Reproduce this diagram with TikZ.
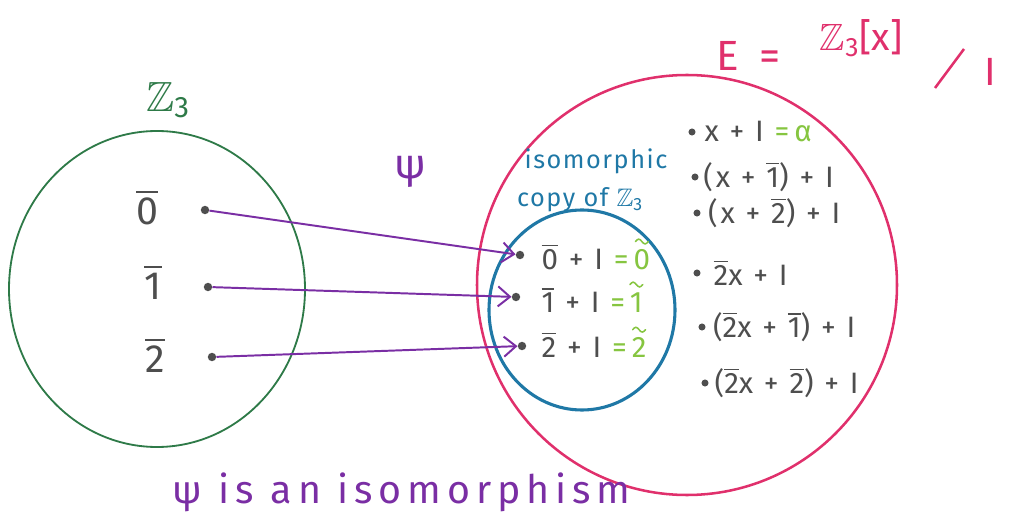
\documentclass[tikz,border=0pt]{standalone}
\usepackage{fix-cm}
\usepackage{amsmath,amssymb}
\usepackage{fontspec}
\setmainfont{Fira Sans}
\usepackage{tikz}
\usetikzlibrary{arrows.meta,positioning,calc}
\definecolor{zgreen}{HTML}{2E7A48}
\definecolor{epink}{HTML}{E0306C}
\definecolor{cblue}{HTML}{1F78A6}
\definecolor{psiviolet}{HTML}{7A2EA4}
\definecolor{pencil}{HTML}{4E4E4E}
\definecolor{limegreen}{HTML}{86C540}
\newcommand{\ovl}[1]{\ensuremath{\overline{\mbox{#1}}}}
\newcommand{\tildemark}{\tikz[x=1cm,y=1cm]\draw[limegreen, line width=1.1pt, line cap=round] (0,0) sin (0.08,0.06) cos (0.16,0) sin (0.24,-0.06) cos (0.32,0);}
\newcommand{\tildigit}[1]{\ooalign{#1\cr\hidewidth\raisebox{0.85em}{\tildemark}\hidewidth\cr}}
\newcommand{\eqpart}[1]{\textcolor{limegreen}{=\,\tildigit{#1}}}
\newcommand{\Zthree}{$\mathbb{Z}_{\text{3}}$}

\begin{document}
\begin{tikzpicture}[x=0.025cm,y=-0.025cm,
  hand/.style={font=\fontsize{21}{24}\selectfont\addfontfeature{LetterSpace=10}, text=pencil, inner sep=1pt},
  bighand/.style={font=\fontsize{28}{30}\selectfont\addfontfeature{LetterSpace=10}, text=pencil},
  bluenote/.style={font=\fontsize{18}{20}\selectfont\addfontfeature{LetterSpace=6}, text=cblue, inner sep=0pt},
  dot/.style={circle, fill=pencil, inner sep=0pt, minimum size=6pt},
  psimap/.style={psiviolet, line width=1.4pt, -{Straight Barb[length=3mm,width=5mm]}}]
  \useasboundingbox (0,0) rectangle (1009,518);

  \draw[zgreen, line width=1.3pt] (157,289) ellipse [x radius=148, y radius=158];
  \draw[epink, line width=1.8pt] (687,285) circle [radius=210];
  \draw[cblue, line width=2.2pt] (582,310) ellipse [x radius=93, y radius=100];

  \node[font=\fontsize{30}{32}\selectfont, text=zgreen] (zlabel) at (168,100) {\Zthree};
  \node[font=\fontsize{30}{32}\selectfont\addfontfeature{LetterSpace=20}, text=epink, anchor=west] (elabel) at (712,56) {E =};
  \node[font=\fontsize{27}{30}\selectfont, text=epink, anchor=west] (quot) at (815,38) {\Zthree[x]};
  \draw[epink, line width=1.8pt] (935,88) -- (964,49);
  \node[font=\fontsize{28}{30}\selectfont, text=epink] (ideal) at (990,72) {I};

  \node[font=\fontsize{30}{32}\selectfont, text=psiviolet] (psi) at (410,172) {ψ};
  \node[bluenote] (iso) at (596,161) {isomorphic};
  \node[bluenote] (copy) at (580,200) {copy of \Zthree};

  \node[bighand] (l0) at (147,207) {\ovl{0}};
  \node[bighand] (l1) at (153,282) {\ovl{1}};
  \node[bighand] (l2) at (155,355) {\ovl{2}};
  \node[dot] (d0) at (205,210) {};
  \node[dot] (d1) at (208,287) {};
  \node[dot] (d2) at (212,357) {};

  \node[dot] (e0) at (520,255) {};
  \node[dot] (e1) at (516,297) {};
  \node[dot] (e2) at (522,346) {};
  \node[hand, anchor=west] (c0) at (540,257) {\ovl{0} + I \eqpart{0}};
  \node[hand, anchor=west] (c1) at (540,300) {\ovl{1} + I \eqpart{1}};
  \node[hand, anchor=west] (c2) at (540,345) {\ovl{2} + I \eqpart{2}};

  \draw[psimap] (d0) -- (e0);
  \draw[psimap] (d1) -- (e1);
  \draw[psimap] (d2) -- (e2);

  \node[dot, minimum size=5pt] (p1) at (692,132) {};
  \node[dot, minimum size=5pt] (p2) at (695,177) {};
  \node[dot, minimum size=5pt] (p3) at (697,213) {};
  \node[dot, minimum size=5pt] (p4) at (697,273) {};
  \node[dot, minimum size=5pt] (p5) at (702,327) {};
  \node[dot, minimum size=5pt] (p6) at (705,383) {};
  \node[hand, right=5pt of p1] (x1) {x + I \textcolor{limegreen}{=\,α}};
  \node[hand, right=2pt of p2] (x2) {(x + \ovl{1}) + I};
  \node[hand, right=4pt of p3] (x3) {(x + \ovl{2}) + I};
  \node[hand, right=8pt of p4] (x4) {\ovl{2}x + I};
  \node[hand, right=4pt of p5] (x5) {(\ovl{2}x + \ovl{1}) + I};
  \node[hand, right=3pt of p6] (x6) {(\ovl{2}x + \ovl{2}) + I};

  \node[font=\fontsize{28}{30}\selectfont\addfontfeature{LetterSpace=15}, text=psiviolet, anchor=west] (claim) at (168,492) {ψ is an isomorphism};
\end{tikzpicture}
\end{document}
